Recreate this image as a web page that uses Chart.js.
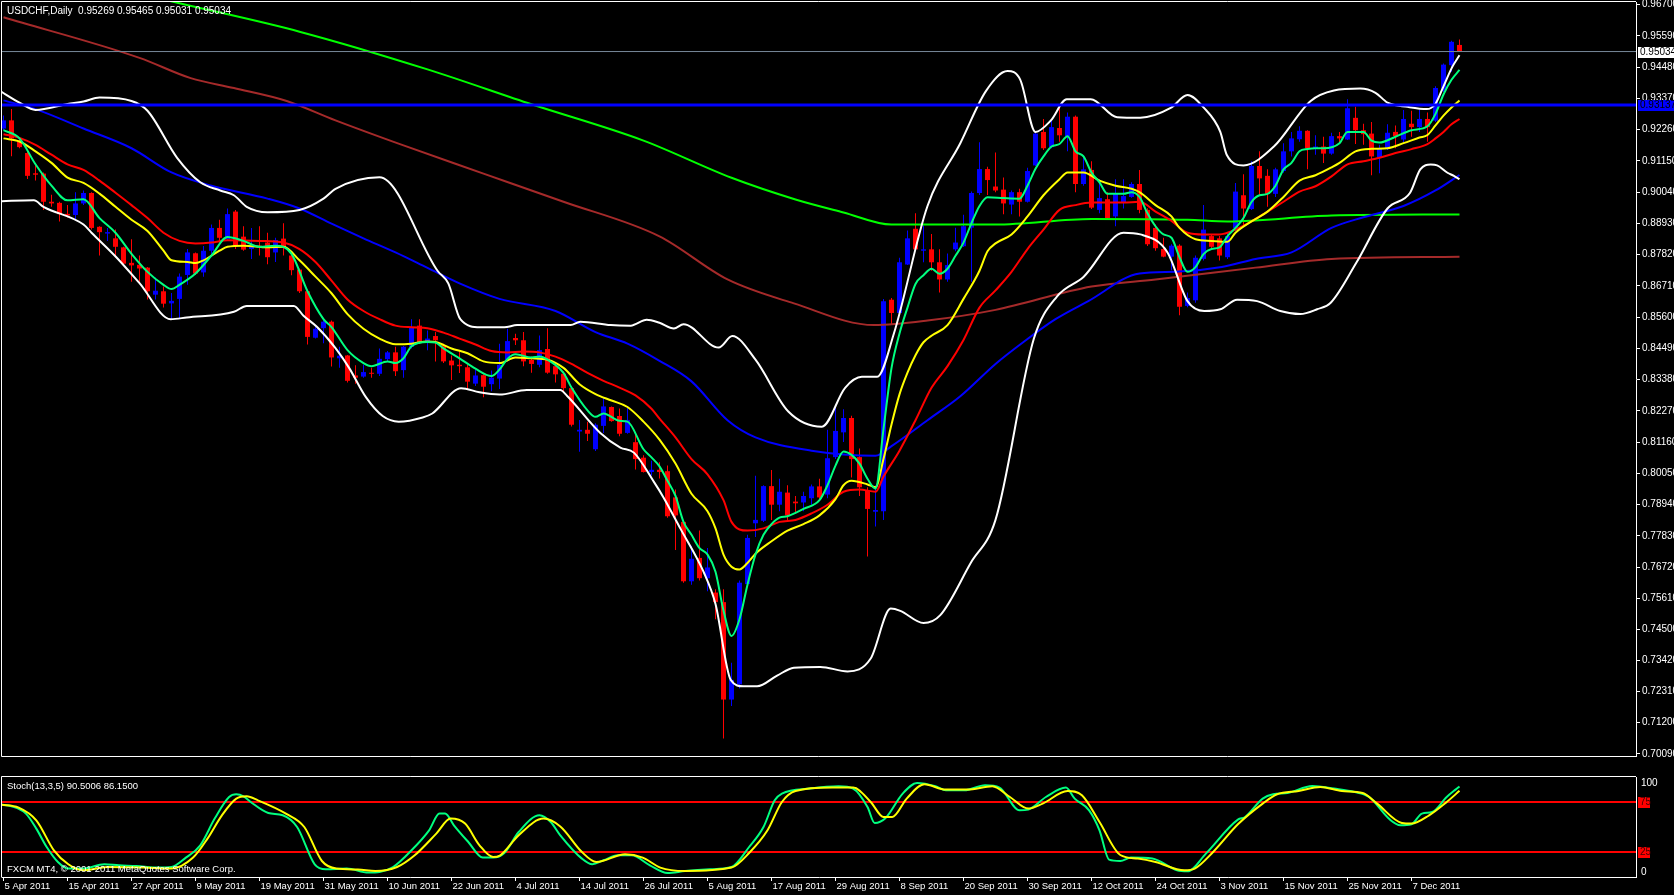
<!DOCTYPE html>
<html>
<head>
<meta charset="utf-8">
<title>USDCHF,Daily</title>
<script src="https://cdn.jsdelivr.net/npm/chart.js@4.4.1/dist/chart.umd.min.js"></script>
<style>
  html, body { margin: 0; padding: 0; background: #000; overflow: hidden; }
  #main { position: absolute; left: 0; top: 0; }
  #stoch { position: absolute; left: 0; top: 776px; }
</style>
</head>
<body>
<canvas id="main" width="1674" height="776"></canvas>
<canvas id="stoch" width="1674" height="119"></canvas>
<script>
var symbol = 'USDCHF';
var period = 'Daily';
var dateLabels = ['5 Apr 2011', '15 Apr 2011', '27 Apr 2011', '9 May 2011', '19 May 2011', '31 May 2011', '10 Jun 2011', '22 Jun 2011', '4 Jul 2011', '14 Jul 2011', '26 Jul 2011', '5 Aug 2011', '17 Aug 2011', '29 Aug 2011', '8 Sep 2011', '20 Sep 2011', '30 Sep 2011', '12 Oct 2011', '24 Oct 2011', '3 Nov 2011', '15 Nov 2011', '25 Nov 2011', '7 Dec 2011'];
var barsPerLabel = 8;
var priceTicks = [0.96700, 0.95590, 0.94480, 0.93370, 0.92260, 0.91150, 0.90040, 0.88930, 0.87820, 0.86710, 0.85600, 0.84490, 0.83380, 0.82270, 0.81160, 0.80050, 0.78940, 0.77830, 0.76720, 0.75610, 0.74500, 0.73420, 0.72310, 0.71200, 0.70090];

// daily candles, 5 Apr 2011 .. 15 Dec 2011
var opens = [0.9230, 0.9259, 0.9184, 0.9143, 0.9071, 0.9070, 0.8970, 0.8966, 0.8927, 0.8923,
  0.8964, 0.9001, 0.8881, 0.8857, 0.8840, 0.8808, 0.8753, 0.8746, 0.8736, 0.8640,
  0.8652, 0.8609, 0.8625, 0.8710, 0.8787, 0.8719, 0.8796, 0.8877, 0.8837, 0.8935,
  0.8846, 0.8802, 0.8814, 0.8825, 0.8790, 0.8839, 0.8779, 0.8729, 0.8652, 0.8487,
  0.8521, 0.8544, 0.8414, 0.8424, 0.8353, 0.8349, 0.8362, 0.8359, 0.8411, 0.8435,
  0.8372, 0.8455, 0.8530, 0.8475, 0.8493, 0.8461, 0.8406, 0.8391, 0.8382, 0.8324,
  0.8354, 0.8322, 0.8342, 0.8409, 0.8486, 0.8478, 0.8408, 0.8391, 0.8447, 0.8386,
  0.8359, 0.8308, 0.8154, 0.8160, 0.8091, 0.8174, 0.8241, 0.8209, 0.8149, 0.8116,
  0.8061, 0.8010, 0.8018, 0.8013, 0.7920, 0.7833, 0.7622, 0.7705, 0.7633, 0.7582,
  0.7548, 0.7202, 0.7256, 0.7612, 0.7828, 0.7837, 0.7960, 0.7894, 0.7937, 0.7905,
  0.7902, 0.7917, 0.7959, 0.7930, 0.8063, 0.8151, 0.8202, 0.8063, 0.7945, 0.7869,
  0.7871, 0.8622, 0.8575, 0.8747, 0.8874, 0.8796, 0.8801, 0.8755, 0.8694, 0.8801,
  0.8812, 0.8878, 0.9001, 0.9086, 0.9024, 0.9013, 0.8960, 0.9004, 0.8970, 0.9099,
  0.9218, 0.9164, 0.9232, 0.9201, 0.9272, 0.9033, 0.9083, 0.8941, 0.8979, 0.8918,
  0.8967, 0.8987, 0.9033, 0.8941, 0.8877, 0.8802, 0.8775, 0.8814, 0.8600, 0.8620,
  0.8767, 0.8848, 0.8840, 0.8773, 0.8877, 0.8993, 0.8944, 0.9097, 0.9062, 0.8998,
  0.9079, 0.9149, 0.9192, 0.9222, 0.9160, 0.9166, 0.9141, 0.9203, 0.9191, 0.9268,
  0.9224, 0.9212, 0.9126, 0.9160, 0.9218, 0.9191, 0.9247, 0.9235, 0.9264, 0.9258,
  0.9365, 0.9455, 0.95269];
var highs = [0.9276, 0.9299, 0.9190, 0.9150, 0.9103, 0.9074, 0.8995, 0.8970, 0.8958, 0.9004,
  0.9010, 0.9004, 0.8883, 0.8877, 0.8871, 0.8810, 0.8837, 0.8779, 0.8738, 0.8701,
  0.8669, 0.8646, 0.8715, 0.8802, 0.8790, 0.8813, 0.8889, 0.8906, 0.8946, 0.8941,
  0.8883, 0.8877, 0.8883, 0.8860, 0.8842, 0.8894, 0.8785, 0.8733, 0.8657, 0.8525,
  0.8553, 0.8548, 0.8455, 0.8426, 0.8389, 0.8391, 0.8380, 0.8449, 0.8440, 0.8455,
  0.8458, 0.8553, 0.8553, 0.8513, 0.8507, 0.8466, 0.8424, 0.8438, 0.8391, 0.8374,
  0.8357, 0.8371, 0.8466, 0.8519, 0.8501, 0.8507, 0.8420, 0.8495, 0.8521, 0.8391,
  0.8368, 0.8313, 0.8195, 0.8189, 0.8183, 0.8276, 0.8243, 0.8236, 0.8239, 0.8143,
  0.8070, 0.8050, 0.8045, 0.8033, 0.7948, 0.7837, 0.7748, 0.7802, 0.7740, 0.7594,
  0.7594, 0.7333, 0.7625, 0.7787, 0.7997, 0.7963, 0.8017, 0.7986, 0.7963, 0.7925,
  0.7940, 0.7966, 0.7986, 0.8160, 0.8240, 0.8233, 0.8210, 0.8094, 0.7956, 0.7963,
  0.8625, 0.8628, 0.8771, 0.8868, 0.8929, 0.8886, 0.8855, 0.8801, 0.8786, 0.8878,
  0.8924, 0.9006, 0.9181, 0.9094, 0.9145, 0.9056, 0.9010, 0.9016, 0.9091, 0.9218,
  0.9264, 0.9264, 0.9305, 0.9287, 0.9276, 0.9134, 0.9114, 0.9050, 0.9004, 0.9050,
  0.9050, 0.9039, 0.9083, 0.8947, 0.8889, 0.8842, 0.8819, 0.8819, 0.8648, 0.8779,
  0.8958, 0.8854, 0.8848, 0.8860, 0.9037, 0.9068, 0.9114, 0.9149, 0.9085, 0.9091,
  0.9178, 0.9218, 0.9238, 0.9224, 0.9206, 0.9201, 0.9215, 0.9218, 0.9334, 0.9307,
  0.9247, 0.9253, 0.9172, 0.9245, 0.9241, 0.9296, 0.9293, 0.9296, 0.9287, 0.9380,
  0.9461, 0.9542, 0.95465];
var lows = [0.9225, 0.9132, 0.9160, 0.9051, 0.9045, 0.8941, 0.8952, 0.8900, 0.8914, 0.8904,
  0.8958, 0.8871, 0.8779, 0.8831, 0.8773, 0.8744, 0.8686, 0.8686, 0.8623, 0.8623,
  0.8594, 0.8553, 0.8556, 0.8675, 0.8710, 0.8704, 0.8785, 0.8825, 0.8831, 0.8802,
  0.8796, 0.8767, 0.8779, 0.8748, 0.8756, 0.8779, 0.8709, 0.8646, 0.8463, 0.8484,
  0.8467, 0.8385, 0.8380, 0.8328, 0.8324, 0.8345, 0.8345, 0.8351, 0.8403, 0.8351,
  0.8345, 0.8449, 0.8466, 0.8443, 0.8403, 0.8397, 0.8337, 0.8362, 0.8305, 0.8316,
  0.8276, 0.8297, 0.8305, 0.8403, 0.8461, 0.8386, 0.8363, 0.8382, 0.8359, 0.8328,
  0.8293, 0.8172, 0.8082, 0.8120, 0.8085, 0.8149, 0.8189, 0.8137, 0.8146, 0.8019,
  0.8008, 0.7998, 0.7987, 0.7848, 0.7733, 0.7617, 0.7610, 0.7625, 0.7587, 0.7487,
  0.7064, 0.7179, 0.7241, 0.7610, 0.7779, 0.7833, 0.7840, 0.7871, 0.7840, 0.7863,
  0.7871, 0.7894, 0.7909, 0.7917, 0.8056, 0.8117, 0.7991, 0.7925, 0.7710, 0.7817,
  0.7840, 0.8532, 0.8571, 0.8745, 0.8797, 0.8755, 0.8725, 0.8648, 0.8686, 0.8794,
  0.8809, 0.8686, 0.8994, 0.8994, 0.9004, 0.8926, 0.8926, 0.8918, 0.8967, 0.9097,
  0.9154, 0.9160, 0.9183, 0.9149, 0.9004, 0.9027, 0.8944, 0.8929, 0.8909, 0.8883,
  0.8946, 0.8984, 0.8929, 0.8813, 0.8796, 0.8773, 0.8727, 0.8567, 0.8595, 0.8611,
  0.8761, 0.8802, 0.8761, 0.8767, 0.8866, 0.8883, 0.8941, 0.8993, 0.8952, 0.8987,
  0.9073, 0.9131, 0.9183, 0.9085, 0.9137, 0.9108, 0.9137, 0.9178, 0.9189, 0.9175,
  0.9172, 0.9064, 0.9071, 0.9154, 0.9160, 0.9180, 0.9201, 0.9218, 0.9183, 0.9253,
  0.9360, 0.9432, 0.95031];
var closes = [0.9259, 0.9195, 0.9164, 0.9062, 0.9066, 0.8970, 0.8964, 0.8926, 0.8921, 0.8964,
  0.9001, 0.8877, 0.8862, 0.8862, 0.8810, 0.8750, 0.8744, 0.8733, 0.8652, 0.8654,
  0.8608, 0.8618, 0.8704, 0.8790, 0.8715, 0.8796, 0.8877, 0.8842, 0.8926, 0.8814,
  0.8800, 0.8814, 0.8808, 0.8773, 0.8834, 0.8808, 0.8727, 0.8652, 0.8490, 0.8519,
  0.8544, 0.8417, 0.8423, 0.8334, 0.8345, 0.8365, 0.8359, 0.8412, 0.8435, 0.8368,
  0.8455, 0.8524, 0.8472, 0.8484, 0.8478, 0.8403, 0.8389, 0.8386, 0.8331, 0.8353,
  0.8313, 0.8345, 0.8391, 0.8475, 0.8478, 0.8403, 0.8394, 0.8443, 0.8363, 0.8357,
  0.8308, 0.8178, 0.8160, 0.8146, 0.8178, 0.8243, 0.8191, 0.8146, 0.8195, 0.8056,
  0.8010, 0.8018, 0.8010, 0.7853, 0.7856, 0.7622, 0.7702, 0.7633, 0.7671, 0.7548,
  0.7202, 0.7272, 0.7617, 0.7776, 0.7840, 0.7960, 0.7894, 0.7940, 0.7856, 0.7899,
  0.7925, 0.7959, 0.7920, 0.8059, 0.8156, 0.8202, 0.8056, 0.7956, 0.7879, 0.7875,
  0.8617, 0.8575, 0.8755, 0.8840, 0.8801, 0.8801, 0.8755, 0.8694, 0.8745, 0.8825,
  0.8883, 0.9001, 0.9086, 0.9047, 0.9010, 0.8964, 0.9004, 0.8970, 0.9079, 0.9212,
  0.9160, 0.9235, 0.9206, 0.9272, 0.9033, 0.9085, 0.8949, 0.8983, 0.8912, 0.8998,
  0.8990, 0.9033, 0.8941, 0.8819, 0.8805, 0.8775, 0.8814, 0.8597, 0.8628, 0.8771,
  0.8871, 0.8810, 0.8779, 0.8848, 0.9006, 0.8946, 0.9097, 0.9053, 0.8998, 0.9085,
  0.9149, 0.9195, 0.9222, 0.9160, 0.9166, 0.9141, 0.9203, 0.9195, 0.9302, 0.9224,
  0.9210, 0.9131, 0.9160, 0.9215, 0.9203, 0.9264, 0.9235, 0.9264, 0.9235, 0.9374,
  0.9457, 0.9538, 0.95034];

// indicator lines as [bar, price]
var maFast = [[0, 0.9224], [2, 0.9195], [4, 0.9103], [6, 0.9027], [8, 0.8975], [10, 0.8979], [12, 0.8912], [14, 0.8860], [16, 0.8785], [18, 0.8721], [20, 0.8675], [21, 0.8660], [22, 0.8675], [24, 0.8715], [26, 0.8779], [28, 0.8845], [30, 0.8831], [32, 0.8810], [34, 0.8814], [36, 0.8785], [38, 0.8652], [40, 0.8553], [41, 0.8525], [43, 0.8443], [45, 0.8397], [46, 0.8386], [48, 0.8403], [49, 0.8397], [50, 0.8414], [51, 0.8457], [53, 0.8472], [54, 0.8470], [55, 0.8449], [57, 0.8414], [59, 0.8377], [61, 0.8351], [62, 0.8374], [63, 0.8412], [64, 0.8428], [66, 0.8417], [67, 0.8420], [68, 0.8409], [70, 0.8362], [71, 0.8310], [73, 0.8229], [74, 0.8206], [75, 0.8218], [77, 0.8192], [78, 0.8189], [80, 0.8091], [81, 0.8062], [82, 0.8030], [83, 0.7979], [84, 0.7925], [85, 0.7833], [86, 0.7787], [87, 0.7740], [88, 0.7717], [89, 0.7656], [90, 0.7518], [91, 0.7428], [92, 0.7487], [93, 0.7610], [94, 0.7717], [95, 0.7787], [96, 0.7825], [97, 0.7848], [98, 0.7853], [100, 0.7879], [102, 0.7910], [103, 0.7963], [104, 0.8033], [105, 0.8083], [106, 0.8071], [107, 0.8040], [108, 0.7986], [109, 0.7951], [110, 0.8163], [111, 0.8379], [112, 0.8502], [113, 0.8594], [114, 0.8678], [115, 0.8709], [116, 0.8732], [117, 0.8714], [118, 0.8732], [119, 0.8778], [120, 0.8825], [121, 0.8894], [122, 0.8955], [123, 0.8986], [125, 0.8983], [127, 0.8981], [128, 0.9027], [129, 0.9087], [130, 0.9131], [131, 0.9166], [132, 0.9175], [133, 0.9203], [134, 0.9149], [135, 0.9131], [136, 0.9074], [137, 0.9039], [138, 0.8998], [140, 0.8998], [141, 0.9004], [142, 0.8987], [143, 0.8929], [144, 0.8883], [145, 0.8854], [146, 0.8842], [147, 0.8773], [148, 0.8721], [149, 0.8738], [150, 0.8784], [151, 0.8802], [152, 0.8808], [153, 0.8848], [154, 0.8877], [155, 0.8912], [156, 0.8969], [157, 0.8993], [158, 0.8998], [159, 0.9027], [160, 0.9085], [161, 0.9108], [162, 0.9149], [163, 0.9157], [164, 0.9160], [165, 0.9160], [167, 0.9178], [168, 0.9218], [170, 0.9218], [171, 0.9187], [172, 0.9180], [174, 0.9201], [176, 0.9224], [178, 0.9238], [179, 0.9282], [180, 0.9351], [181, 0.9403], [182, 0.9438]];
var maYellow = [[0, 0.9195], [2, 0.9184], [4, 0.9149], [6, 0.9108], [8, 0.9056], [10, 0.9037], [12, 0.8999], [14, 0.8952], [16, 0.8906], [18, 0.8866], [20, 0.8796], [21, 0.8762], [23, 0.8756], [24, 0.8752], [25, 0.8762], [27, 0.8796], [28, 0.8810], [30, 0.8814], [33, 0.8808], [35, 0.8810], [37, 0.8762], [39, 0.8704], [41, 0.8645], [43, 0.8571], [45, 0.8519], [47, 0.8484], [49, 0.8464], [51, 0.8466], [53, 0.8474], [54, 0.8472], [56, 0.8449], [58, 0.8432], [60, 0.8403], [62, 0.8397], [64, 0.8417], [66, 0.8414], [68, 0.8409], [70, 0.8380], [72, 0.8322], [74, 0.8287], [76, 0.8264], [78, 0.8241], [80, 0.8189], [82, 0.8125], [84, 0.8040], [86, 0.7933], [88, 0.7871], [89, 0.7810], [90, 0.7717], [91, 0.7674], [92, 0.7664], [93, 0.7687], [94, 0.7720], [96, 0.7764], [98, 0.7802], [100, 0.7825], [102, 0.7856], [104, 0.7914], [105, 0.7963], [106, 0.7979], [108, 0.7966], [109, 0.7956], [110, 0.8056], [111, 0.8179], [112, 0.8286], [113, 0.8363], [114, 0.8425], [115, 0.8471], [116, 0.8494], [118, 0.8532], [120, 0.8625], [122, 0.8725], [123, 0.8794], [124, 0.8822], [126, 0.8854], [128, 0.8918], [130, 0.8993], [132, 0.9050], [133, 0.9074], [135, 0.9074], [137, 0.9045], [139, 0.9027], [141, 0.9016], [142, 0.9004], [144, 0.8958], [146, 0.8918], [147, 0.8877], [149, 0.8837], [151, 0.8831], [153, 0.8828], [154, 0.8860], [156, 0.8900], [158, 0.8935], [160, 0.8987], [162, 0.9045], [164, 0.9064], [166, 0.9092], [167, 0.9108], [169, 0.9149], [171, 0.9158], [173, 0.9160], [175, 0.9178], [177, 0.9198], [178, 0.9207], [179, 0.9241], [180, 0.9276], [181, 0.9305], [182, 0.9330]];
var maRed = [[0, 0.9210], [2, 0.9197], [4, 0.9172], [6, 0.9137], [8, 0.9103], [10, 0.9083], [12, 0.9045], [14, 0.9002], [16, 0.8958], [18, 0.8912], [20, 0.8860], [22, 0.8831], [24, 0.8822], [26, 0.8825], [28, 0.8833], [32, 0.8831], [35, 0.8825], [37, 0.8802], [39, 0.8756], [41, 0.8690], [43, 0.8623], [45, 0.8582], [47, 0.8553], [49, 0.8530], [51, 0.8524], [53, 0.8521], [55, 0.8505], [57, 0.8484], [59, 0.8463], [61, 0.8440], [63, 0.8435], [65, 0.8438], [67, 0.8435], [69, 0.8420], [71, 0.8394], [73, 0.8362], [75, 0.8334], [77, 0.8310], [79, 0.8282], [81, 0.8235], [82, 0.8200], [84, 0.8133], [86, 0.8056], [88, 0.8002], [90, 0.7910], [91, 0.7833], [93, 0.7802], [95, 0.7810], [97, 0.7833], [99, 0.7840], [101, 0.7863], [103, 0.7894], [105, 0.7940], [107, 0.7948], [109, 0.7940], [110, 0.7994], [112, 0.8086], [114, 0.8194], [116, 0.8309], [118, 0.8386], [120, 0.8479], [122, 0.8594], [124, 0.8655], [126, 0.8721], [128, 0.8802], [130, 0.8871], [132, 0.8941], [134, 0.8958], [136, 0.8967], [138, 0.8967], [140, 0.8967], [142, 0.8970], [144, 0.8935], [146, 0.8902], [148, 0.8860], [150, 0.8854], [152, 0.8854], [154, 0.8871], [156, 0.8900], [158, 0.8935], [160, 0.8970], [162, 0.9006], [164, 0.9025], [166, 0.9060], [168, 0.9103], [170, 0.9114], [172, 0.9126], [174, 0.9143], [176, 0.9157], [178, 0.9175], [179, 0.9195], [180, 0.9218], [181, 0.9245], [182, 0.9264]];
var maBlue = [[0, 0.9330], [4, 0.9299], [10, 0.9230], [16, 0.9160], [21, 0.9074], [26, 0.9027], [33, 0.8981], [37, 0.8946], [41, 0.8892], [45, 0.8840], [49, 0.8790], [53, 0.8735], [57, 0.8680], [62, 0.8625], [69, 0.8582], [74, 0.8507], [78, 0.8466], [82, 0.8405], [86, 0.8332], [90.5, 0.8194], [94, 0.8133], [101, 0.8086], [109, 0.8068], [111, 0.8102], [115.5, 0.8194], [119.6, 0.8279], [124, 0.8394], [127.5, 0.8472], [131.5, 0.8553], [135.6, 0.8617], [142, 0.8715], [146.5, 0.8721], [152.3, 0.8738], [156.5, 0.8767], [161, 0.8790], [166, 0.8877], [170, 0.8915], [175, 0.8955], [179, 0.9010], [182, 0.9065]];
var maLime = [[15, 0.9722], [22, 0.9675], [37, 0.9574], [53, 0.9440], [66, 0.9316], [80, 0.9187], [91, 0.9055], [99, 0.8978], [105, 0.8932], [111, 0.8889], [124, 0.8889], [136, 0.8909], [148, 0.8906], [153, 0.8900], [166, 0.8921], [182, 0.8925]];
var maBrown = [[0, 0.9625], [17, 0.9481], [23.4, 0.9409], [28.8, 0.9374], [35.4, 0.9328], [41.5, 0.9259], [50, 0.9170], [60, 0.9070], [70, 0.8970], [82, 0.8847], [90.5, 0.8694], [98.8, 0.8609], [108.8, 0.8532], [115.5, 0.8548], [124, 0.8586], [136, 0.8669], [144, 0.8694], [156.5, 0.8736], [166, 0.8767], [182, 0.8775]];
var bandUpper = [[-0.4, 0.9363], [2, 0.9322], [4, 0.9296], [8, 0.9317], [10, 0.9326], [12, 0.9340], [16, 0.9328], [18, 0.9293], [21.7, 0.9126], [24.6, 0.9039], [27.1, 0.9010], [28.8, 0.8993], [30.4, 0.8952], [33, 0.8933], [37, 0.8941], [40, 0.8981], [41.5, 0.9016], [47, 0.9057], [54.3, 0.8723], [55.6, 0.8680], [57.1, 0.8553], [59.6, 0.8524], [62.6, 0.8524], [64.2, 0.8532], [70.9, 0.8532], [72.1, 0.8544], [75.9, 0.8532], [78.4, 0.8530], [80.4, 0.8551], [82, 0.8540], [83.8, 0.8520], [85, 0.8535], [89.4, 0.8452], [91.1, 0.8493], [94, 0.8409], [98.1, 0.8225], [102.3, 0.8171], [105.2, 0.8309], [107.3, 0.8348], [109.2, 0.8348], [111.3, 0.8502], [115.5, 0.8955], [119.6, 0.9178], [122.8, 0.9363], [125.5, 0.9434], [127.1, 0.9403], [129, 0.9218], [130.9, 0.9258], [132.9, 0.9334], [135.9, 0.9334], [139.2, 0.9270], [142.1, 0.9268], [145.9, 0.9303], [148, 0.9349], [150, 0.9305], [152.1, 0.9218], [152.9, 0.9137], [155, 0.9099], [158.8, 0.9166], [163.4, 0.9328], [166.3, 0.9365], [169.6, 0.9372], [171.5, 0.9357], [173, 0.9322], [175.5, 0.9307], [177.9, 0.9299], [179, 0.9318], [180, 0.9380], [181.1, 0.9449], [182, 0.9490]];
var bandLower = [[-0.4, 0.8972], [3.8, 0.8975], [5, 0.8952], [10, 0.8889], [11, 0.8860], [14.1, 0.8773], [17, 0.8681], [20.9, 0.8553], [22.9, 0.8559], [28.8, 0.8579], [30.4, 0.8600], [36.3, 0.8600], [37.5, 0.8565], [39.2, 0.8525], [41.5, 0.8450], [43.2, 0.8380], [45.3, 0.8276], [47.4, 0.8209], [49.4, 0.8189], [52.4, 0.8204], [53.6, 0.8218], [57.2, 0.8308], [59.5, 0.8293], [62, 0.8285], [65.4, 0.8301], [69.6, 0.8301], [70.4, 0.8282], [74.6, 0.8149], [77.1, 0.8097], [78.8, 0.8079], [81.3, 0.7975], [82.5, 0.7920], [84.6, 0.7810], [87.5, 0.7656], [89, 0.7541], [90.9, 0.7272], [92.5, 0.7249], [94.2, 0.7249], [96.7, 0.7287], [98.8, 0.7315], [102.1, 0.7318], [105.5, 0.7302], [108.4, 0.7348], [110.9, 0.7525], [112.1, 0.7517], [115, 0.7474], [117.1, 0.7502], [120.9, 0.7687], [124, 0.7840], [128.8, 0.8484], [131.7, 0.8634], [135, 0.8703], [140, 0.8860], [142.1, 0.8854], [145.5, 0.8790], [148, 0.8617], [150.1, 0.8582], [152.1, 0.8588], [154.2, 0.8622], [156.7, 0.8617], [159.6, 0.8582], [162.1, 0.8571], [164.2, 0.8588], [165.9, 0.8611], [169.1, 0.8753], [173, 0.8946], [175.8, 0.9001], [177.1, 0.9085], [178.4, 0.9102], [179.2, 0.9099], [180.5, 0.9073], [181.3, 0.9062], [182, 0.9050]];
var levelBlue = 0.93137;
var levelBid = 0.95034;

// Stoch(13,3,5) main and signal, [bar, value]
var stochMain = [[-0.4, 72.4], [1, 70.7], [2.8, 63.4], [4.1, 48.4], [5.4, 30], [6.8, 15], [8.1, 8.4], [9.9, 8.4], [12.6, 12.7], [14.4, 11.7], [16.6, 11], [19.3, 9.4], [21, 10], [22.8, 19.4], [24.6, 31.7], [26.4, 58.4], [28.2, 80], [29.1, 82.7], [30, 80.7], [30.9, 75], [33.1, 64], [34.9, 61.7], [36.7, 50], [38.9, 12.7], [40.3, 7.7], [42.9, 8.4], [45.6, 4.4], [47, 5], [48.7, 10], [51, 26.7], [53.2, 46.7], [54.5, 63.4], [55.2, 63.4], [56.3, 51.7], [58.1, 35], [59.9, 19.4], [61.2, 19.4], [62.6, 24], [64.4, 45], [67, 61.7], [68.4, 55], [69.6, 41.7], [72.3, 18.4], [73.6, 12.7], [75, 16.7], [76.8, 21.7], [78.5, 21.7], [80.8, 11.7], [83, 4], [85.2, 6], [88.3, 7.7], [91, 10], [93.2, 30], [95, 50], [96.4, 76.7], [97.3, 83.4], [100.8, 88.4], [104.4, 90.7], [106.2, 88.4], [108, 70], [108.9, 54], [110.2, 58.4], [112.4, 83.4], [114.2, 94], [116.5, 90.7], [117.8, 86.7], [120.1, 86.7], [122.7, 91.7], [124.5, 89.4], [127, 66.7], [128.1, 67.4], [130.3, 80], [132.8, 89.4], [133.9, 78.4], [135.7, 66.7], [137, 46.7], [138.2, 17.4], [139.6, 16], [140.9, 19.4], [143.6, 18.4], [146.7, 6.7], [148, 5.7], [150.3, 23.4], [154.3, 57.4], [155.2, 60], [157.4, 78.4], [158.7, 82.7], [160.5, 84], [163.6, 91], [166.3, 88.4], [168.9, 85], [170.7, 80], [173.3, 57.4], [174.6, 51.7], [176, 52.7], [177.3, 63.4], [178.6, 65], [180.4, 80], [181.5, 87.4], [182, 90.5006]];
var stochSignal = [[-0.4, 72.4], [1.9, 69.4], [4.1, 56.7], [6.3, 26.7], [8.1, 12.7], [9.9, 6.7], [13, 10], [17.5, 9.4], [21, 8.4], [23.7, 19.4], [25.5, 38.4], [27.3, 61.7], [29.1, 78.4], [30.4, 80.7], [31.8, 76.7], [35.3, 63.4], [37.6, 50], [39.8, 16], [41.6, 8.4], [44.3, 7.4], [46.5, 6], [49.2, 10], [51.4, 21.7], [54.1, 43.4], [55.9, 58.4], [57.7, 53.4], [59.5, 31.7], [61.2, 20], [62.1, 21.7], [64.4, 41.7], [67.5, 58.4], [69.6, 50.5], [72.3, 25], [74.1, 15], [77.7, 22.7], [79.9, 19.4], [82.1, 9.4], [85.2, 6], [91, 9.4], [93.2, 24], [95.5, 46.7], [97.3, 75], [99, 86], [103.6, 89.4], [106.2, 89.4], [108.4, 75], [110, 60], [111.1, 60], [112.9, 78.4], [115.1, 92.7], [117.8, 87.4], [120.5, 87.4], [123.6, 90.7], [125.8, 80], [128.1, 68.4], [129.9, 73.4], [133, 86], [134.8, 81.7], [137, 55], [139.6, 22], [141.8, 18.4], [144, 15], [147.6, 6.7], [148.9, 8.4], [151.2, 25], [154.3, 52.7], [157.4, 73.4], [159.2, 82.7], [161.9, 86], [164.6, 90], [167.3, 86], [169.9, 84], [171.7, 73.4], [174.8, 54], [176, 53.4], [178.2, 61.7], [180.4, 75], [182, 86.15]];
var stochLevels = [75, 25];

var FONT = '"Liberation Sans", Arial, sans-serif';
Chart.defaults.font.family = FONT;
Chart.defaults.font.size = 10;
Chart.defaults.color = '#ffffff';

var xMin = -0.1875, xMax = 204.0625;

function pts(pairs) {
  return pairs.map(function (p) { return { x: p[0], y: p[1] }; });
}

function lineSet(pairs, color, width, order) {
  return {
    type: 'line',
    data: pts(pairs),
    borderColor: color,
    borderWidth: width,
    pointRadius: 0,
    pointHoverRadius: 0,
    cubicInterpolationMode: 'monotone',
    fill: false,
    order: order
  };
}

function levelSet(value, color, width, order) {
  var s = lineSet([[xMin - 1, value], [xMax + 1, value]], color, width, order);
  s.cubicInterpolationMode = 'default';
  s.tension = 0;
  return s;
}

function xAxis(show) {
  return {
    type: 'linear',
    min: xMin,
    max: xMax,
    offset: false,
    display: show,
    grid: { display: show, drawOnChartArea: false, drawTicks: true, tickLength: 4, color: '#ffffff', offset: false },
    border: { display: show, color: '#ffffff' },
    afterBuildTicks: function (s) {
      s.ticks = dateLabels.map(function (d, i) { return { value: i * barsPerLabel }; });
    },
    afterFit: function (s) {
      s.height = 18;
      s.paddingLeft = 0;
      s.paddingRight = 0;
    },
    ticks: {
      display: show,
      autoSkip: false,
      maxRotation: 0,
      align: 'start',
      labelOffset: 1,
      padding: 0,
      color: '#ffffff',
      font: { size: 9.5 },
      callback: function (v, i) { return dateLabels[i]; }
    }
  };
}

function drawTag(ctx, text, y, bg, fg, w) {
  ctx.fillStyle = bg;
  ctx.fillRect(1638, Math.round(y) - 5, w, 11);
  ctx.fillStyle = fg;
  ctx.textAlign = 'left';
  ctx.textBaseline = 'middle';
  ctx.fillText(text, 1640, Math.round(y) + 0.5);
}

var upColor = '#0000ff', downColor = '#ff0000';
var candleColors = closes.map(function (c, i) { return c >= opens[i] ? upColor : downColor; });

var mainChart = new Chart(document.getElementById('main'), {
  type: 'bar',
  data: {
    datasets: [
      {
        data: lows.map(function (l, i) { return { x: i, y: [l, highs[i]] }; }),
        backgroundColor: candleColors,
        barThickness: 1, maxBarThickness: 1, barPercentage: 1, categoryPercentage: 1,
        grouped: false, inflateAmount: 0, order: 20
      },
      {
        data: opens.map(function (o, i) { return { x: i, y: [o, closes[i]] }; }),
        backgroundColor: candleColors,
        barThickness: 5, maxBarThickness: 5, barPercentage: 1, categoryPercentage: 1,
        minBarLength: 1, grouped: false, inflateAmount: 0, order: 19
      },
      lineSet(maBrown, '#a52a2a', 2, 12),
      lineSet(maLime, '#00ff00', 2, 11),
      lineSet(maBlue, '#0000ff', 2, 10),
      lineSet(bandUpper, '#ffffff', 2, 9),
      lineSet(bandLower, '#ffffff', 2, 8),
      lineSet(maRed, '#ff0000', 2, 7),
      lineSet(maYellow, '#ffff00', 2, 6),
      lineSet(maFast, '#00ff7f', 2, 5),
      levelSet(levelBid, '#778899', 1, 2),
      levelSet(levelBlue, '#0000ff', 3, 1)
    ]
  },
  options: {
    responsive: false,
    animation: false,
    events: [],
    layout: { padding: { top: 2, left: 2, right: 0, bottom: 2 } },
    plugins: { legend: { display: false }, tooltip: { enabled: false } },
    scales: {
      x: xAxis(false),
      y: {
        type: 'linear',
        position: 'right',
        min: 0.70015,
        max: 0.96794,
        beginAtZero: false,
        grid: { drawOnChartArea: false, drawTicks: true, tickLength: 4, color: '#ffffff' },
        border: { color: '#ffffff' },
        afterBuildTicks: function (s) {
          s.ticks = priceTicks.map(function (v) { return { value: v }; });
        },
        afterFit: function (s) {
          s.width = 38;
          s.paddingTop = 0;
          s.paddingBottom = 0;
        },
        ticks: {
          padding: 2,
          color: '#ffffff',
          callback: function (v) { return v.toFixed(5); }
        }
      }
    }
  },
  plugins: [{
    id: 'mt4frame',
    afterDraw: function (c) {
      var ctx = c.ctx, a = c.chartArea, last = opens.length - 1;
      ctx.save();
      ctx.strokeStyle = '#ffffff';
      ctx.lineWidth = 1;
      ctx.beginPath();
      ctx.moveTo(a.right, a.top - 0.5);
      ctx.lineTo(a.left - 0.5, a.top - 0.5);
      ctx.lineTo(a.left - 0.5, a.bottom + 0.5);
      ctx.lineTo(a.right, a.bottom + 0.5);
      ctx.stroke();
      ctx.font = '10px ' + FONT;
      ctx.fillStyle = '#ffffff';
      ctx.textAlign = 'left';
      ctx.textBaseline = 'middle';
      var ohlc = [opens[last], highs[last], lows[last], closes[last]].map(function (v) { return v.toFixed(5); });
      ctx.fillText(symbol + ',' + period + '  ' + ohlc.join(' '), 7, 11);
      drawTag(ctx, levelBid.toFixed(5), c.scales.y.getPixelForValue(levelBid), '#ffffff', '#000000', 36);
      drawTag(ctx, levelBlue.toFixed(5), c.scales.y.getPixelForValue(levelBlue), '#0000ff', '#000000', 36);
      ctx.restore();
    }
  }]
});

var stochChart = new Chart(document.getElementById('stoch'), {
  type: 'line',
  data: {
    datasets: [
      levelSet(stochLevels[0], '#ff0000', 2, 5),
      levelSet(stochLevels[1], '#ff0000', 2, 4),
      lineSet(stochMain, '#00ff7f', 2, 2),
      lineSet(stochSignal, '#ffff00', 2, 1)
    ]
  },
  options: {
    responsive: false,
    animation: false,
    events: [],
    layout: { padding: { top: 1, left: 2, right: 0, bottom: 0 } },
    plugins: { legend: { display: false }, tooltip: { enabled: false } },
    scales: {
      x: xAxis(true),
      y: {
        type: 'linear',
        position: 'right',
        min: 0,
        max: 100,
        grid: { drawOnChartArea: false, drawTicks: false },
        border: { color: '#ffffff' },
        ticks: { display: false },
        afterFit: function (s) {
          s.width = 38;
          s.paddingTop = 0;
          s.paddingBottom = 0;
        }
      }
    }
  },
  plugins: [{
    id: 'mt4stoch',
    afterDraw: function (c) {
      var ctx = c.ctx, a = c.chartArea, y = c.scales.y;
      ctx.save();
      ctx.strokeStyle = '#ffffff';
      ctx.lineWidth = 1;
      ctx.beginPath();
      ctx.moveTo(a.right, a.top - 0.5);
      ctx.lineTo(a.left - 0.5, a.top - 0.5);
      ctx.lineTo(a.left - 0.5, a.bottom + 0.5);
      ctx.stroke();
      ctx.font = '9.5px ' + FONT;
      ctx.fillStyle = '#ffffff';
      ctx.textAlign = 'left';
      ctx.textBaseline = 'middle';
      var m = stochMain[stochMain.length - 1][1], s = stochSignal[stochSignal.length - 1][1];
      ctx.fillText('Stoch(13,3,5) ' + m.toFixed(4) + ' ' + s.toFixed(4), 7, 10);
      ctx.fillText('FXCM MT4, \u00a9 2001-2011 MetaQuotes Software Corp.', 7, 93);
      ctx.font = '10px ' + FONT;
      ctx.fillText('100', 1641, y.getPixelForValue(100) + 6);
      ctx.fillText('0', 1641, y.getPixelForValue(0) - 5);
      stochLevels.forEach(function (v) {
        drawTag(ctx, String(v), y.getPixelForValue(v), '#ff0000', '#400000', 12);
      });
      ctx.restore();
    }
  }]
});
</script>
</body>
</html>
